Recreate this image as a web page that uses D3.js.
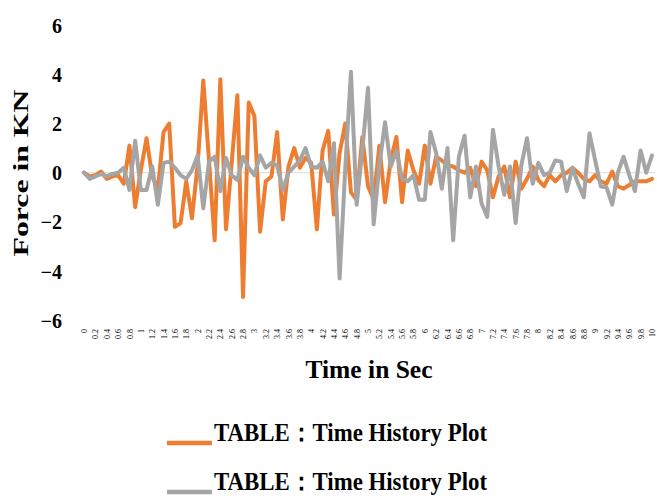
<!DOCTYPE html>
<html><head><meta charset="utf-8">
<script src="https://cdn.jsdelivr.net/npm/d3@7"></script>
<style>body{margin:0;background:#fff}svg{display:block}</style>
</head><body>
<svg id="c" width="657" height="502"></svg>
<script>
const categories = ["0","0.1","0.2","0.3","0.4","0.5","0.6","0.7","0.8","0.9","1","1.1","1.2","1.3","1.4","1.5","1.6","1.7","1.8","1.9","2","2.1","2.2","2.3","2.4","2.5","2.6","2.7","2.8","2.9","3","3.1","3.2","3.3","3.4","3.5","3.6","3.7","3.8","3.9","4","4.1","4.2","4.3","4.4","4.5","4.6","4.7","4.8","4.9","5","5.1","5.2","5.3","5.4","5.5","5.6","5.7","5.8","5.9","6","6.1","6.2","6.3","6.4","6.5","6.6","6.7","6.8","6.9","7","7.1","7.2","7.3","7.4","7.5","7.6","7.7","7.8","7.9","8","8.1","8.2","8.3","8.4","8.5","8.6","8.7","8.8","8.9","9","9.1","9.2","9.3","9.4","9.5","9.6","9.7","9.8","9.9","10"];
const tickLabels = ["0","0.2","0.4","0.6","0.8","1","1.2","1.4","1.6","1.8","2","2.2","2.4","2.6","2.8","3","3.2","3.4","3.6","3.8","4","4.2","4.4","4.6","4.8","5","5.2","5.4","5.6","5.8","6","6.2","6.4","6.6","6.8","7","7.2","7.4","7.6","7.8","8","8.2","8.4","8.6","8.8","9","9.2","9.4","9.6","9.8","10"];
const yTicks = [-6,-4,-2,0,2,4,6];
const seriesOrange = [0,-0.15,-0.1,0.05,-0.25,-0.15,-0.1,-0.45,1.1,-1.4,0.1,1.4,-0.15,-0.65,1.65,2.0,-2.2,-2.05,-0.35,-1.85,0.3,3.75,0.5,-2.75,3.8,-2.3,0.4,3.15,-5.05,2.85,2.3,-2.4,-0.35,-0.15,1.65,-1.9,0.25,1.0,0.2,0.6,0.4,-2.3,0.9,1.7,-1.7,0.8,2.0,-0.8,-1.1,1.45,-0.55,-1.1,1.1,-1.2,0.5,1.45,-1.2,0.9,0.1,-0.45,1.1,-0.45,0.65,0.5,0.3,0.25,0.1,0,0.2,-0.55,0.45,0.1,-1.0,-0.15,0.25,-1.0,0.45,-0.65,-0.25,0.25,-0.3,-0.55,-0.1,-0.35,-0.1,0,0.2,0,-0.25,-0.35,-0.1,-0.35,-0.45,0.05,-0.55,-0.65,-0.5,-0.35,-0.35,-0.35,-0.25];
const seriesGray = [0,-0.25,-0.15,-0.05,-0.15,-0.05,0,0.2,-0.7,1.3,-0.7,-0.7,0.25,-1.3,0.4,0.45,0.2,-0.1,-0.25,0.1,0.7,-1.45,0.45,0.65,-0.75,0.6,-0.1,-0.3,0.65,0.2,-0.1,0.7,0.2,0.4,0.3,-0.7,0,0.25,0.5,1.0,0.25,0.2,0.45,-0.35,1.2,-4.3,0.2,4.1,-1.3,0.9,3.45,-2.1,0.3,2.05,0.25,0.9,-0.25,-0.35,-0.1,-1.1,-1.1,1.65,0.8,-0.65,1.0,-2.75,0.65,1.5,-1.0,0.25,-1.25,-1.8,1.75,0.25,-0.9,0.25,-2.05,0.3,1.4,-0.45,0.4,-0.1,0,0.5,0.45,-0.75,0.2,-0.45,-1.0,1.6,0.5,-0.55,-0.6,-1.3,0,0.65,-0.1,-0.75,0.9,0,0.7];
const seriesNames = ["TABLE\uFF1ATime History Plot","TABLE\uFF1ATime History Plot"];
const colors = ["#ED7D31","#A5A5A5"];

const svg = d3.select("#c");
const x = d3.scalePoint().domain(categories).range([81.2, 654.8]).padding(0.5);
const y = d3.scaleLinear().domain([-6,6]).range([320.3, 25.1]);
const serif = "'Liberation Serif','Times New Roman',serif";

// zero line
svg.append("line").attr("x1",81).attr("x2",655).attr("y1",y(0)).attr("y2",y(0))
  .attr("stroke","#d9d9d9").attr("stroke-width",1);

// y axis
const yAxis = svg.append("g").attr("transform","translate(62,0)")
  .call(d3.axisLeft(y).tickValues(yTicks).tickSize(0).tickPadding(0).tickFormat(d3.format("d")));
yAxis.select(".domain").remove();
yAxis.selectAll("text").attr("font-family",serif).attr("font-weight","bold").attr("font-size",20).attr("fill","#000").attr("dy","0.35em");

// x axis (labels rotated, reading bottom-to-top, end aligned at the top)
const xAxis = svg.append("g").attr("transform","translate(0,329)")
  .call(d3.axisBottom(x).tickValues(tickLabels).tickSize(0).tickPadding(0));
xAxis.select(".domain").remove();
xAxis.selectAll("text").attr("font-family",serif).attr("font-size",8).attr("fill","#000")
  .attr("transform","rotate(-90)").attr("text-anchor","end").attr("x",0).attr("y",0).attr("dy","0.32em");

// lines
const line = d3.line().x((d,i)=>x(categories[i])).y(d=>y(d));
[seriesOrange, seriesGray].forEach((s,k)=>{
  svg.append("path").datum(s).attr("d",line).attr("fill","none")
    .attr("stroke",colors[k]).attr("stroke-width",4).attr("stroke-linejoin","round").attr("stroke-linecap","round");
});

// axis titles
svg.append("text").attr("transform","translate(28,173) rotate(-90)").attr("text-anchor","middle")
  .attr("font-family",serif).attr("font-weight","bold").attr("font-size",22)
  .attr("textLength",167).attr("lengthAdjust","spacingAndGlyphs").text("Force in KN");
svg.append("text").attr("x",369).attr("y",378).attr("text-anchor","middle")
  .attr("font-family",serif).attr("font-weight","bold").attr("font-size",26)
  .attr("textLength",127).attr("lengthAdjust","spacingAndGlyphs").text("Time in Sec");

// legend
const legY = [441, 490];
seriesNames.forEach((n,k)=>{
  svg.append("line").attr("x1",167).attr("x2",212).attr("y1",legY[k]+2).attr("y2",legY[k]+2)
    .attr("stroke",colors[k]).attr("stroke-width",4.5);
  svg.append("text").attr("x",214).attr("y",legY[k]).attr("font-family",serif).attr("font-weight","bold")
    .attr("font-size",25).attr("textLength",273).attr("lengthAdjust","spacingAndGlyphs").text(n);
});
</script>
</body></html>
